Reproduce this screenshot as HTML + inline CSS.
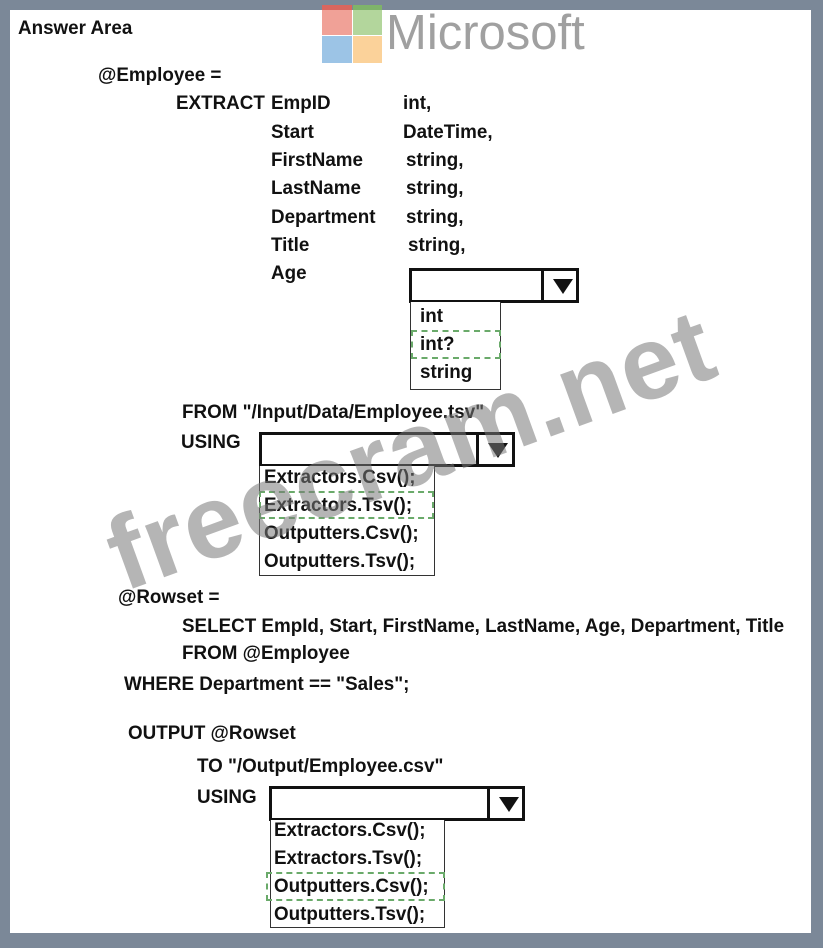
<!DOCTYPE html>
<html><head><style>
body{margin:0;width:823px;height:948px;background:#7b8898;position:relative;overflow:hidden;font-family:"Liberation Sans",sans-serif}
.panel{position:absolute;left:10px;top:10px;width:801px;height:923px;background:#fff}
.t{position:absolute;font-weight:bold;font-size:19px;color:#111;line-height:22px;white-space:nowrap;transform:scaleX(0.99);transform-origin:left center}
.box{position:absolute;border:3px solid #111;background:#fff;box-sizing:border-box}
.div{position:absolute;top:0;bottom:0;border-left:3px solid #111}
.arr{position:absolute;width:0;height:0;border-left:10px solid transparent;border-right:10px solid transparent;border-top:15px solid #111}
.list{position:absolute;border:1.5px solid #333;border-top:none;background:#fff;box-sizing:border-box}
.dash{position:absolute;border:2px dashed #6aaa6a;box-sizing:border-box}
.wm{position:absolute;left:112px;top:500px;font-size:104px;font-weight:bold;color:rgba(120,120,120,0.55);transform:rotate(-20deg);transform-origin:left center;white-space:nowrap;letter-spacing:1px}
</style></head><body>
<div class="panel"></div>
<div style="position:absolute;left:322px;top:5px;width:30px;height:30px;background:#f0a197"></div>
<div style="position:absolute;left:322px;top:5px;width:30px;height:5px;background:#d9665e"></div>
<div style="position:absolute;left:353px;top:5px;width:29px;height:30px;background:#b3d69c"></div>
<div style="position:absolute;left:353px;top:5px;width:29px;height:5px;background:#7fb36a"></div>
<div style="position:absolute;left:322px;top:36px;width:30px;height:27px;background:#9cc4e6"></div>
<div style="position:absolute;left:353px;top:36px;width:29px;height:27px;background:#fbd29a"></div>
<div style="position:absolute;left:386px;top:8px;font-size:49px;color:#a0a0a0;line-height:50px">Microsoft</div>

<div class="t" style="left:18px;top:18px">Answer Area</div>
<div class="t" style="left:98px;top:65px">@Employee =</div>
<div class="t" style="left:176px;top:93px">EXTRACT</div>
<div class="t" style="left:271px;top:93px">EmpID</div><div class="t" style="left:403px;top:93px">int,</div>
<div class="t" style="left:271px;top:122px">Start</div><div class="t" style="left:403px;top:122px">DateTime,</div>
<div class="t" style="left:271px;top:150px">FirstName</div><div class="t" style="left:406px;top:150px">string,</div>
<div class="t" style="left:271px;top:178px">LastName</div><div class="t" style="left:406px;top:178px">string,</div>
<div class="t" style="left:271px;top:207px">Department</div><div class="t" style="left:406px;top:207px">string,</div>
<div class="t" style="left:271px;top:235px">Title</div><div class="t" style="left:408px;top:235px">string,</div>
<div class="t" style="left:271px;top:263px">Age</div>

<div class="box" style="left:409px;top:268px;width:170px;height:35px"><div class="div" style="left:129px"></div><div class="arr" style="left:141px;top:8px"></div></div>
<div class="list" style="left:410px;top:302px;width:91px;height:88px"></div>
<div class="dash" style="left:411px;top:330px;width:90px;height:29px"></div>
<div class="t" style="left:420px;top:306px">int</div>
<div class="t" style="left:420px;top:334px">int?</div>
<div class="t" style="left:420px;top:362px">string</div>

<div class="t" style="left:182px;top:402px">FROM "/Input/Data/Employee.tsv"</div>
<div class="t" style="left:181px;top:432px">USING</div>
<div class="box" style="left:259px;top:432px;width:256px;height:35px"><div class="div" style="left:214px"></div><div class="arr" style="left:226px;top:8px"></div></div>
<div class="list" style="left:259px;top:466px;width:176px;height:110px"></div>
<div class="dash" style="left:259px;top:491px;width:175px;height:28px"></div>
<div class="t" style="left:264px;top:467px">Extractors.Csv();</div>
<div class="t" style="left:264px;top:495px">Extractors.Tsv();</div>
<div class="t" style="left:264px;top:523px">Outputters.Csv();</div>
<div class="t" style="left:264px;top:551px">Outputters.Tsv();</div>

<div class="t" style="left:118px;top:587px">@Rowset =</div>
<div class="t" style="left:182px;top:616px">SELECT EmpId, Start, FirstName, LastName, Age, Department, Title</div>
<div class="t" style="left:182px;top:643px">FROM @Employee</div>
<div class="t" style="left:124px;top:674px">WHERE Department == "Sales";</div>
<div class="t" style="left:128px;top:723px">OUTPUT @Rowset</div>
<div class="t" style="left:197px;top:756px">TO "/Output/Employee.csv"</div>
<div class="t" style="left:197px;top:787px">USING</div>
<div class="box" style="left:269px;top:786px;width:256px;height:35px"><div class="div" style="left:215px"></div><div class="arr" style="left:227px;top:8px"></div></div>
<div class="list" style="left:270px;top:820px;width:175px;height:108px"></div>
<div class="dash" style="left:266px;top:872px;width:179px;height:29px"></div>
<div class="t" style="left:274px;top:820px">Extractors.Csv();</div>
<div class="t" style="left:274px;top:848px">Extractors.Tsv();</div>
<div class="t" style="left:274px;top:876px">Outputters.Csv();</div>
<div class="t" style="left:274px;top:904px">Outputters.Tsv();</div>

<div class="wm">freecram.net</div>
</body></html>
